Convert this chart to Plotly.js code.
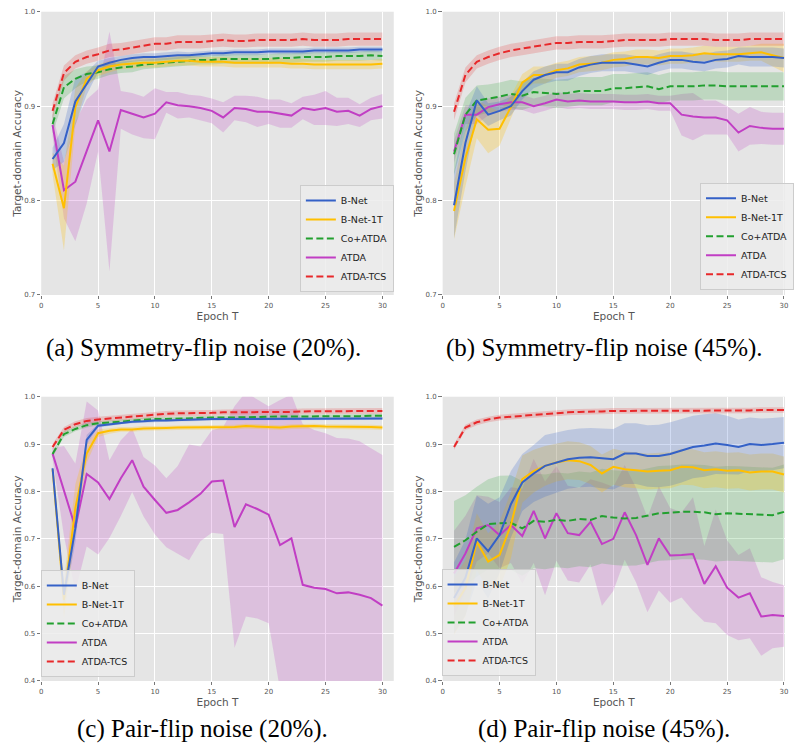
<!DOCTYPE html>
<html><head><meta charset="utf-8">
<script src="https://cdn.plot.ly/plotly-3.0.1.min.js"></script>
<style>html,body{margin:0;padding:0;background:#fff;}#chart{width:794px;height:747px;}</style>
</head><body><div id="chart"></div>
<script>
// ---------- data ----------
const epochs = [1,2,3,4,5,6,7,8,9,10,11,12,13,14,15,16,17,18,19,20,21,22,23,24,25,26,27,28,29,30];
const seriesNames = ['B-Net','B-Net-1T','Co+ATDA','ATDA','ATDA-TCS'];
const captions = ['(a) Symmetry-flip noise (20%).','(b) Symmetry-flip noise (45%).','(c) Pair-flip noise (20%).','(d) Pair-flip noise (45%).'];
const xTickVals = [0,5,10,15,20,25,30];
const yTickValsTop = [0.7,0.8,0.9,1.0];
const yTickValsBottom = [0.4,0.5,0.6,0.7,0.8,0.9,1.0];

// (a) symmetry 20%
const aBNet = [0.844,0.861,0.905,0.924,0.942,0.946,0.949,0.951,0.952,0.952,0.953,0.954,0.954,0.955,0.956,0.956,0.957,0.957,0.957,0.958,0.958,0.958,0.958,0.959,0.959,0.959,0.959,0.960,0.960,0.960];
const aBNetSd = [0.012,0.02,0.025,0.012,0.006,0.005,0.004,0.004,0.004,0.004,0.004,0.004,0.003,0.003,0.003,0.003,0.003,0.003,0.003,0.003,0.003,0.003,0.003,0.003,0.003,0.003,0.003,0.003,0.003,0.003];
const aBNet1T = [0.839,0.792,0.899,0.929,0.938,0.942,0.944,0.945,0.946,0.946,0.947,0.948,0.948,0.947,0.947,0.947,0.946,0.946,0.946,0.946,0.946,0.945,0.945,0.944,0.944,0.944,0.944,0.944,0.944,0.945];
const aBNet1TSd = [0.012,0.045,0.02,0.008,0.006,0.006,0.005,0.005,0.005,0.005,0.005,0.005,0.005,0.005,0.005,0.005,0.005,0.005,0.005,0.005,0.005,0.005,0.005,0.005,0.005,0.005,0.005,0.005,0.005,0.005];
const aCo = [0.881,0.920,0.929,0.934,0.936,0.939,0.941,0.942,0.944,0.945,0.946,0.947,0.948,0.949,0.949,0.950,0.950,0.950,0.950,0.950,0.951,0.951,0.952,0.952,0.952,0.953,0.953,0.953,0.954,0.953];
const aCoSd = [0.01,0.012,0.01,0.008,0.007,0.006,0.006,0.006,0.005,0.005,0.005,0.005,0.005,0.005,0.005,0.005,0.005,0.005,0.005,0.005,0.005,0.005,0.005,0.005,0.005,0.005,0.005,0.005,0.005,0.005];
const aATDA = [0.880,0.811,0.820,0.852,0.885,0.852,0.896,0.892,0.888,0.892,0.904,0.901,0.900,0.898,0.895,0.888,0.898,0.897,0.894,0.894,0.892,0.890,0.898,0.896,0.898,0.894,0.895,0.890,0.897,0.900];
const aATDASd = [0.012,0.03,0.063,0.055,0.033,0.127,0.02,0.022,0.022,0.027,0.011,0.014,0.012,0.013,0.013,0.016,0.013,0.014,0.016,0.013,0.015,0.013,0.012,0.016,0.018,0.015,0.014,0.012,0.012,0.013];
const aTCS = [0.895,0.935,0.947,0.952,0.955,0.959,0.960,0.962,0.964,0.966,0.966,0.968,0.968,0.968,0.969,0.970,0.969,0.969,0.970,0.970,0.970,0.970,0.971,0.970,0.970,0.970,0.971,0.971,0.971,0.971];
const aTCSSd = [0.008,0.008,0.007,0.007,0.007,0.007,0.007,0.007,0.007,0.007,0.007,0.007,0.007,0.007,0.007,0.007,0.007,0.007,0.007,0.007,0.007,0.007,0.007,0.007,0.007,0.007,0.007,0.007,0.007,0.007];

// (b) symmetry 45%
const bBNet = [0.795,0.861,0.906,0.891,0.895,0.900,0.916,0.928,0.933,0.936,0.936,0.941,0.944,0.946,0.946,0.946,0.944,0.942,0.946,0.949,0.949,0.947,0.946,0.949,0.950,0.953,0.952,0.952,0.952,0.951];
const bBNetSd = [0.035,0.03,0.015,0.012,0.01,0.01,0.009,0.009,0.009,0.009,0.009,0.009,0.009,0.009,0.009,0.009,0.009,0.009,0.009,0.009,0.009,0.009,0.009,0.009,0.009,0.009,0.01,0.01,0.01,0.01];
const bBNet1T = [0.789,0.845,0.886,0.875,0.876,0.899,0.925,0.933,0.933,0.938,0.940,0.944,0.945,0.946,0.949,0.950,0.952,0.952,0.951,0.953,0.953,0.954,0.956,0.955,0.955,0.955,0.956,0.957,0.954,0.951];
const bBNet1TSd = [0.03,0.03,0.02,0.025,0.018,0.012,0.009,0.009,0.009,0.008,0.008,0.008,0.008,0.008,0.008,0.008,0.008,0.008,0.008,0.008,0.008,0.008,0.008,0.008,0.008,0.008,0.008,0.009,0.012,0.015];
const bCo = [0.849,0.891,0.906,0.908,0.910,0.913,0.911,0.915,0.914,0.913,0.914,0.916,0.916,0.916,0.919,0.919,0.920,0.921,0.918,0.921,0.921,0.921,0.922,0.922,0.921,0.921,0.921,0.921,0.921,0.921];
const bCoSd = [0.022,0.018,0.016,0.015,0.015,0.015,0.015,0.015,0.015,0.015,0.015,0.015,0.015,0.015,0.015,0.015,0.015,0.015,0.015,0.015,0.015,0.015,0.015,0.015,0.015,0.015,0.015,0.015,0.015,0.015];
const bATDA = [0.852,0.891,0.891,0.899,0.902,0.904,0.904,0.900,0.903,0.907,0.905,0.906,0.905,0.905,0.905,0.904,0.904,0.905,0.903,0.903,0.891,0.889,0.888,0.888,0.885,0.872,0.879,0.877,0.876,0.876];
const bATDASd = [0.012,0.01,0.01,0.009,0.008,0.008,0.008,0.008,0.008,0.008,0.008,0.008,0.008,0.008,0.008,0.008,0.008,0.008,0.008,0.008,0.022,0.025,0.018,0.018,0.015,0.02,0.02,0.017,0.017,0.017];
const bTCS = [0.894,0.933,0.947,0.952,0.956,0.959,0.961,0.963,0.965,0.967,0.967,0.968,0.968,0.968,0.969,0.970,0.970,0.970,0.970,0.971,0.971,0.971,0.971,0.970,0.970,0.970,0.971,0.971,0.971,0.971];
const bTCSSd = [0.009,0.008,0.007,0.007,0.007,0.007,0.007,0.007,0.007,0.007,0.007,0.007,0.007,0.007,0.007,0.007,0.007,0.007,0.007,0.007,0.007,0.007,0.007,0.007,0.007,0.007,0.007,0.007,0.007,0.007];

// (c) pair 20%
const cBNet = [0.849,0.582,0.722,0.909,0.939,0.942,0.945,0.947,0.948,0.950,0.950,0.951,0.951,0.952,0.953,0.953,0.953,0.953,0.954,0.954,0.954,0.954,0.954,0.954,0.954,0.954,0.954,0.954,0.954,0.954];
const cBNetSd = [0.005,0.02,0.03,0.01,0.004,0.003,0.003,0.003,0.003,0.003,0.003,0.003,0.003,0.003,0.003,0.003,0.003,0.003,0.003,0.003,0.003,0.003,0.003,0.003,0.003,0.003,0.003,0.003,0.003,0.003];
const cBNet1T = [0.847,0.571,0.765,0.880,0.923,0.928,0.931,0.931,0.933,0.933,0.934,0.935,0.935,0.935,0.935,0.936,0.936,0.938,0.937,0.937,0.935,0.937,0.938,0.938,0.937,0.937,0.937,0.936,0.936,0.935];
const cBNet1TSd = [0.005,0.04,0.05,0.02,0.008,0.006,0.005,0.005,0.005,0.005,0.005,0.005,0.005,0.005,0.005,0.005,0.005,0.005,0.005,0.005,0.005,0.005,0.005,0.005,0.005,0.005,0.005,0.005,0.005,0.005];
const cCo = [0.879,0.921,0.932,0.940,0.944,0.946,0.948,0.950,0.951,0.953,0.953,0.954,0.954,0.955,0.956,0.956,0.956,0.957,0.957,0.958,0.958,0.958,0.958,0.959,0.959,0.959,0.959,0.959,0.960,0.960];
const cCoSd = [0.006,0.006,0.005,0.005,0.004,0.004,0.004,0.004,0.004,0.004,0.004,0.004,0.004,0.004,0.004,0.004,0.004,0.004,0.004,0.004,0.004,0.004,0.004,0.004,0.004,0.004,0.004,0.004,0.004,0.004];
const cATDA = [0.880,0.801,0.724,0.837,0.819,0.784,0.828,0.866,0.810,0.782,0.755,0.761,0.777,0.795,0.821,0.823,0.725,0.773,0.763,0.751,0.687,0.701,0.603,0.597,0.594,0.585,0.587,0.582,0.575,0.559];
const cATDASd = [0.012,0.095,0.135,0.153,0.152,0.082,0.080,0.067,0.063,0.073,0.073,0.093,0.122,0.100,0.108,0.113,0.255,0.237,0.231,0.229,0.306,0.304,0.339,0.333,0.329,0.328,0.325,0.324,0.316,0.318];
const cTCS = [0.894,0.930,0.942,0.949,0.952,0.954,0.956,0.958,0.960,0.963,0.964,0.965,0.965,0.966,0.966,0.967,0.967,0.968,0.968,0.968,0.968,0.968,0.969,0.969,0.969,0.969,0.969,0.970,0.970,0.970];
const cTCSSd = [0.006,0.006,0.006,0.006,0.006,0.006,0.006,0.006,0.006,0.006,0.006,0.006,0.006,0.006,0.006,0.006,0.006,0.006,0.006,0.006,0.006,0.006,0.006,0.006,0.006,0.006,0.006,0.006,0.006,0.006];

// (d) pair 45%
const dBNet = [0.575,0.618,0.701,0.674,0.708,0.773,0.819,0.838,0.854,0.861,0.868,0.871,0.872,0.870,0.868,0.880,0.880,0.875,0.875,0.879,0.886,0.894,0.897,0.901,0.898,0.894,0.900,0.898,0.900,0.903];
const dBNetSd = [0.075,0.08,0.09,0.1,0.08,0.07,0.06,0.06,0.065,0.064,0.062,0.062,0.062,0.063,0.064,0.064,0.064,0.065,0.066,0.067,0.067,0.066,0.066,0.064,0.062,0.058,0.056,0.056,0.055,0.054];
const dBNet1T = [0.557,0.596,0.694,0.652,0.666,0.729,0.826,0.843,0.854,0.861,0.866,0.864,0.856,0.838,0.852,0.847,0.845,0.842,0.844,0.845,0.852,0.851,0.845,0.847,0.844,0.845,0.840,0.842,0.842,0.836];
const dBNet1TSd = [0.06,0.06,0.06,0.06,0.07,0.07,0.05,0.045,0.042,0.04,0.04,0.04,0.04,0.04,0.038,0.038,0.038,0.038,0.038,0.038,0.038,0.038,0.038,0.038,0.038,0.038,0.038,0.038,0.038,0.038];
const dCo = [0.683,0.697,0.715,0.731,0.733,0.734,0.722,0.738,0.736,0.740,0.738,0.742,0.740,0.748,0.745,0.743,0.744,0.749,0.754,0.755,0.757,0.757,0.756,0.752,0.754,0.753,0.752,0.750,0.750,0.757];
const dCoSd = [0.097,0.095,0.095,0.095,0.1,0.1,0.1,0.1,0.1,0.1,0.1,0.1,0.1,0.1,0.1,0.1,0.1,0.1,0.1,0.1,0.1,0.1,0.1,0.1,0.1,0.1,0.1,0.1,0.1,0.1];
const dATDA = [0.627,0.669,0.722,0.729,0.708,0.729,0.706,0.759,0.701,0.754,0.712,0.708,0.736,0.689,0.700,0.756,0.708,0.645,0.701,0.665,0.666,0.668,0.605,0.642,0.597,0.576,0.585,0.536,0.539,0.537];
const dATDASd = [0.09,0.08,0.07,0.06,0.07,0.08,0.1,0.11,0.12,0.1,0.1,0.1,0.09,0.13,0.11,0.1,0.1,0.1,0.11,0.1,0.09,0.12,0.08,0.12,0.1,0.09,0.095,0.083,0.07,0.065];
const dTCS = [0.894,0.935,0.946,0.952,0.956,0.958,0.960,0.961,0.963,0.966,0.967,0.968,0.968,0.969,0.970,0.970,0.970,0.970,0.971,0.971,0.971,0.971,0.971,0.971,0.971,0.971,0.971,0.972,0.972,0.972];
const dTCSSd = [0.006,0.006,0.006,0.006,0.006,0.006,0.006,0.006,0.006,0.006,0.006,0.006,0.006,0.006,0.006,0.006,0.006,0.006,0.006,0.006,0.006,0.006,0.006,0.006,0.006,0.006,0.006,0.006,0.006,0.006];

// ---------- assembly ----------
const panels = [
  {means:[aBNet,aBNet1T,aCo,aATDA,aTCS], sds:[aBNetSd,aBNet1TSd,aCoSd,aATDASd,aTCSSd]},
  {means:[bBNet,bBNet1T,bCo,bATDA,bTCS], sds:[bBNetSd,bBNet1TSd,bCoSd,bATDASd,bTCSSd]},
  {means:[cBNet,cBNet1T,cCo,cATDA,cTCS], sds:[cBNetSd,cBNet1TSd,cCoSd,cATDASd,cTCSSd]},
  {means:[dBNet,dBNet1T,dCo,dATDA,dTCS], sds:[dBNetSd,dBNet1TSd,dCoSd,dATDASd,dTCSSd]}
];
const lineColors = ['#3461c7','#ffbf00','#22a02f','#c13ec4','#e8282a'];
const fillColors = ['rgba(52,97,199,0.22)','rgba(255,191,0,0.25)','rgba(34,160,47,0.2)','rgba(193,62,196,0.22)','rgba(232,40,42,0.2)'];
const dashes = ['solid','solid','7px,3.5px','solid','7px,3.5px'];
const drawOrder = [3,2,1,0,4];
const legendIds = ['legend','legend2','legend3','legend4'];

const traces = [];
panels.forEach((p, pi) => {
  const xa = 'x' + (pi ? pi + 1 : ''), ya = 'y' + (pi ? pi + 1 : '');
  drawOrder.forEach(si => {
    const m = p.means[si], s = p.sds[si];
    traces.push({x: epochs, y: m.map((v,i)=>v + s[i]), xaxis: xa, yaxis: ya, type:'scatter', mode:'lines',
      line:{width:0, color:fillColors[si]}, showlegend:false, hoverinfo:'skip'});
    traces.push({x: epochs, y: m.map((v,i)=>v - s[i]), xaxis: xa, yaxis: ya, type:'scatter', mode:'lines',
      line:{width:0, color:fillColors[si]}, fill:'tonexty', fillcolor:fillColors[si], showlegend:false, hoverinfo:'skip'});
  });
  drawOrder.forEach(si => {
    traces.push({x: epochs, y: p.means[si], xaxis: xa, yaxis: ya, type:'scatter', mode:'lines',
      name: seriesNames[si], legend: legendIds[pi], legendrank: si + 1,
      line:{width:2, color:lineColors[si], dash:dashes[si]}});
  });
});

const tickFont = {family:'DejaVu Sans', size:7, color:'#555'};
const titleFont = {family:'DejaVu Sans', size:10.5, color:'#555'};
function xAxis(domain, range, anchor){
  return {domain, range, anchor, tickvals:xTickVals, ticks:'outside', ticklen:3.5, tickcolor:'#777', tickwidth:1,
    tickfont:tickFont, showgrid:true, gridcolor:'#ffffff', gridwidth:1, zeroline:false, showline:false,
    title:{text:'Epoch T', font:titleFont, standoff:2}, fixedrange:true};
}
function yAxis(domain, range, ticks, anchor){
  return {domain, range, anchor, tickvals:ticks, tickformat:'.1f', ticks:'outside', ticklen:3.5, tickcolor:'#777', tickwidth:1,
    tickfont:tickFont, showgrid:true, gridcolor:'#ffffff', gridwidth:1, zeroline:false, showline:false,
    title:{text:'Target-domain Accuracy', font:titleFont, standoff:0}, fixedrange:true};
}
const xdL = [0.0525, 0.5016], xdR = [0.5639, 1.0];
const ydT = [0.6051, 0.9843], ydB = [0.0884, 0.4689];
const legendStyle = (x, y) => ({x, y, xanchor:'left', yanchor:'bottom', bgcolor:'rgba(236,236,236,0.85)',
  bordercolor:'#cccccc', borderwidth:1, font:{family:'DejaVu Sans', size:9.5, color:'#222'}, traceorder:'normal'});
const capFont = {family:'Liberation Serif', size:25, color:'#000'};

const layout = {
  width:794, height:747, margin:{l:0,r:0,t:0,b:0}, paper_bgcolor:'#ffffff', plot_bgcolor:'#e5e5e5',
  xaxis: xAxis(xdL, [0,31], 'y'), yaxis: yAxis(ydT, [0.7,1.0], yTickValsTop, 'x'),
  xaxis2: xAxis(xdR, [0,30.09], 'y2'), yaxis2: yAxis(ydT, [0.7,1.0], yTickValsTop, 'x2'),
  xaxis3: xAxis(xdL, [0,31], 'y3'), yaxis3: yAxis(ydB, [0.4,1.0], yTickValsBottom, 'x3'),
  xaxis4: xAxis(xdR, [0,30.09], 'y4'), yaxis4: yAxis(ydB, [0.4,1.0], yTickValsBottom, 'x4'),
  legend: legendStyle(0.382, 0.609),
  legend2: legendStyle(0.892, 0.612),
  legend3: legendStyle(0.052, 0.0937),
  legend4: legendStyle(0.5625, 0.095),
  showlegend:true,
  annotations: [
    {text:captions[0], x:0.2594, y:0.5348},
    {text:captions[1], x:0.7695, y:0.5348},
    {text:captions[2], x:0.2582, y:0.0241},
    {text:captions[3], x:0.7695, y:0.0241}
  ].map(a => Object.assign(a, {xref:'paper', yref:'paper', xanchor:'center', yanchor:'middle', showarrow:false, font:capFont}))
};
Plotly.newPlot('chart', traces, layout, {displayModeBar:false, staticPlot:true});
</script></body></html>
